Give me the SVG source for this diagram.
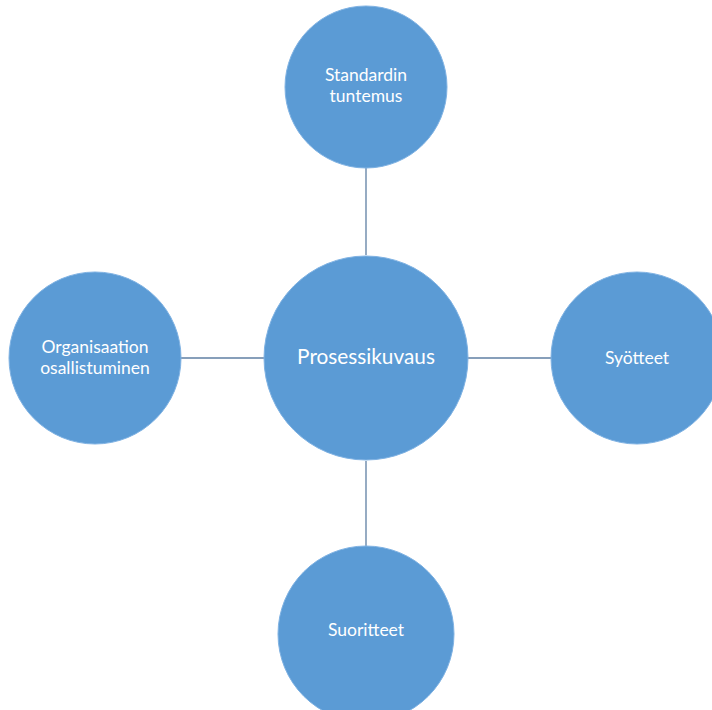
<svg xmlns="http://www.w3.org/2000/svg" width="712" height="710" viewBox="0 0 712 710">
<style>
.n{fill:#5b9bd5;stroke:#7fb2e3;stroke-width:1}
.t{fill:#ffffff;font-family:Lato,"Open Sans",sans-serif;text-anchor:middle}
.s{font-size:17.5px}
.c{font-size:20.8px}
.e{stroke:#5f7fa3;stroke-width:1.3;fill:none}
</style>
<rect width="712" height="710" fill="#ffffff"/>
<g id="connectors">
<line class="e" x1="366" y1="167" x2="366" y2="255"/>
<line class="e" x1="181" y1="358" x2="265" y2="358"/>
<line class="e" x1="467" y1="358" x2="551" y2="358"/>
<line class="e" x1="366" y1="461" x2="366" y2="547"/>
</g>
<g id="center">
<circle class="n" cx="366" cy="358" r="102"/>
<text class="t c" x="366" y="364">Prosessikuvaus</text>
</g>
<g id="top">
<circle class="n" cx="366" cy="87" r="81"/>
<text class="t s" x="366" y="81">Standardin</text>
<text class="t s" x="366" y="102">tuntemus</text>
</g>
<g id="left">
<circle class="n" cx="95" cy="358" r="86"/>
<text class="t s" x="95" y="353">Organisaation</text>
<text class="t s" x="95" y="374">osallistuminen</text>
</g>
<g id="right">
<circle class="n" cx="637" cy="358" r="86"/>
<text class="t s" x="637" y="364">Syötteet</text>
</g>
<g id="bottom">
<circle class="n" cx="366" cy="634" r="88"/>
<text class="t s" x="366" y="636">Suoritteet</text>
</g>
</svg>
